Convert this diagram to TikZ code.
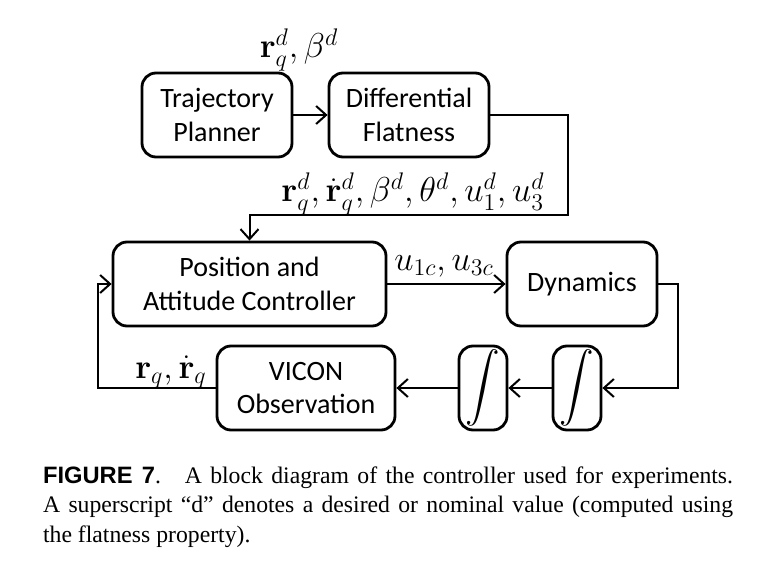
\documentclass[tikz,border=0pt]{standalone}
\usepackage{amsmath}
\usepackage[no-math]{fontspec}
\setmainfont{Liberation Serif}
\setsansfont{Liberation Sans}
\newfontfamily\blockfont{Carlito}
\usepackage{tikz}
\usetikzlibrary{arrows.meta}
\usetikzlibrary{positioning}

\begin{document}
\begin{tikzpicture}[x=0.5pt, y=-0.5pt,
  block/.style={draw, line width=1.4pt, rounded corners=7pt, align=center, inner sep=0pt,
    font=\blockfont\fontsize{14}{16.8}\selectfont},
  integ/.style={block, minimum width=24pt, minimum height=42pt, font=\fontsize{16}{19}\selectfont},
  link/.style={line width=1pt, -{Straight Barb[length=5pt,width=9pt]}},
  lab/.style={font=\fontsize{17}{20}\selectfont, inner sep=0pt}]
  \useasboundingbox (0, 0) rectangle (773, 567);

  \node[block, minimum width=75pt, minimum height=42pt] (plan) at (217, 115) {Trajectory\\Planner};
  \node[block, minimum width=80pt, minimum height=42pt] (flat) at (409, 115) {Differential\\Flatness};
  \node[block, minimum width=136.5pt, minimum height=42pt] (ctrl) at (249.5, 284) {Position and\\Attitude Controller};
  \node[block, minimum width=75pt, minimum height=42pt] (dyn) at (582, 284) {Dynamics};
  \node[integ] (intB) at (577, 388) {$\displaystyle\int$};
  \node[integ] (intA) at (483, 388) {$\displaystyle\int$};
  \node[block, minimum width=89pt, minimum height=42pt] (vicon) at (306, 388) {VICON\\Observation};

  \node[lab] (rd) at (299, 50) {$\mathbf{r}_q^d, \beta^d$};
  \node[lab] (rall) at (413, 194) {$\mathbf{r}_q^d, \dot{\mathbf{r}}_q^d, \beta^d, \theta^d, u_1^d, u_3^d$};
  \node[lab] (uc) at (444, 266) {$u_{1c}, u_{3c}$};
  \node[lab] (rq) at (171, 372) {$\mathbf{r}_q, \dot{\mathbf{r}}_q$};

  \coordinate (tR) at (568, 215);
  \coordinate (fR) at (678, 388);
  \coordinate (fL) at (98, 388);

  \draw[link] (plan) -- (flat);
  \draw[link] (flat.east) -| (tR) -| (ctrl.north);
  \draw[link] (ctrl) -- (dyn);
  \draw[link] (dyn.east) -| (fR) -- (intB.east);
  \draw[link] (intB) -- (intA);
  \draw[link] (intA) -- (vicon);
  \draw[link] (vicon.west) -- (fL) |- (ctrl.west);

  \node[anchor=north west, text width=345pt, align=justify, inner sep=0pt,
    font=\fontsize{11.85}{14.85}\selectfont] (cap) at (42.7, 466)
    {\textsf{\textbf{FIGURE 7}}.\quad A block diagram of the controller used for experiments.\linebreak
     A superscript ``d'' denotes a desired or nominal value (computed using\linebreak
     the flatness property).};
\end{tikzpicture}
\end{document}
